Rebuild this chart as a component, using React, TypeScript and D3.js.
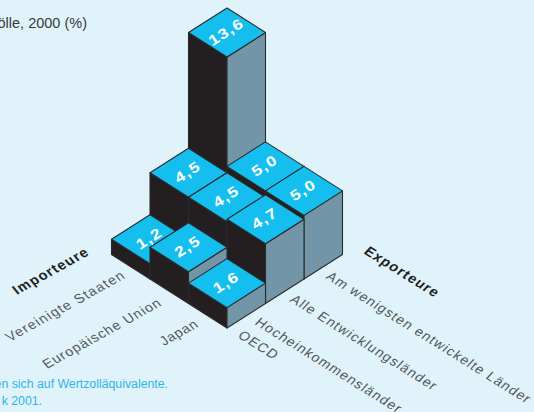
import React from "react";
import * as d3 from "d3";

const importers = ["Japan", "Europäische Union", "Vereinigte Staaten"];
const exporters = ["Hocheinkommensländer OECD", "Alle Entwicklungsländer", "Am wenigsten entwickelte Länder"];
// Rows follow importers, columns follow exporters.
const japanRates = [1.6, 4.7, 5.0];
const euRates = [2.5, 4.5, 5.0];
const usRates = [1.2, 4.5, 13.6];
const rateRows = [japanRates, euRates, usRates];

const BG = "#e0f3fb";
const TOP = "#14bff0";
const LEFT = "#231f20";
const RIGHT = "#7296a8";
const INK = "#55565a";
const SANS = "'Liberation Sans', Arial, sans-serif";

const stepX = d3.scaleLinear().domain([0, 1]).range([0, 38.5]);
const stepY = d3.scaleLinear().domain([0, 1]).range([0, 24.5]);
const height = d3.scaleLinear().domain([0, 13.6]).range([0, 173]);
const ANGLE = (Math.atan2(24.5, 38.5) * 180) / Math.PI;
const IMPORT_ANGLE = -29;
const EXPORT_ANGLE = 32;
const originX = 227;
const originY = 328;

const path = (pts: [number, number][]) => d3.line()(pts) + "Z";

type Cell = { i: number; e: number; v: number };
const cells: Cell[] = rateRows
  .flatMap((row, i) => row.map((v, e) => ({ i, e, v })))
  // Paint from the far corner towards the viewer.
  .sort((a, b) => b.i + b.e - (a.i + a.e));

function Block({ i, e, v }: Cell) {
  const gx = originX + stepX(e - i);
  const gy = originY - stepY(e + i);
  const h = height(v);
  const dx = stepX(1);
  const dy = stepY(1);
  const topFront: [number, number] = [gx, gy - h];
  const topRight: [number, number] = [gx + dx, gy - h - dy];
  const topBack: [number, number] = [gx, gy - h - 2 * dy];
  const topLeft: [number, number] = [gx - dx, gy - h - dy];
  const baseFront: [number, number] = [gx, gy];
  const baseRight: [number, number] = [gx + dx, gy - dy];
  const baseLeft: [number, number] = [gx - dx, gy - dy];
  const edge = { stroke: "#2a2a2c", strokeWidth: 1.1, strokeLinejoin: "round" as const };
  return (
    <g>
      <path d={path([topLeft, topFront, baseFront, baseLeft])} fill={LEFT} {...edge} />
      <path d={path([topFront, topRight, baseRight, baseFront])} fill={RIGHT} {...edge} />
      <path d={path([topFront, topRight, topBack, topLeft])} fill={TOP} {...edge} />
    </g>
  );
}

// Value labels sit above all blocks so no neighbour can cover them.
function ValueLabel({ i, e, v }: Cell) {
  const gx = originX + stepX(e - i);
  const gy = originY - stepY(e + i);
  return (
    <text
      transform={`translate(${gx - 1},${gy - height(v) - stepY(1) - 1}) rotate(${-ANGLE}) scale(1.2,1)`}
      textAnchor="middle"
      dy="0.36em"
      fontFamily={SANS}
      fontWeight="bold"
      fontSize={14.5}
      letterSpacing={1}
      fill="#fff"
    >
      {v.toFixed(1).replace(".", ",")}
    </text>
  );
}

// Sloped text reads along the ground plane, so it is rotated and slightly sheared.
function Sloped(props: { x: number; y: number; angle: number; text: string; bold?: boolean; size?: number; spacing?: number }) {
  const { x, y, angle, text, bold, size = 13.6, spacing = 1.15 } = props;
  const skew = angle > 0 ? -10 : 10;
  return (
    <text
      transform={`translate(${x},${y}) rotate(${angle}) skewX(${skew})`}
      fontFamily={SANS}
      fontWeight={bold ? "bold" : "normal"}
      fontSize={size}
      letterSpacing={spacing}
      fill={bold ? "#231f20" : INK}
    >
      {text}
    </text>
  );
}

export default function App() {
  return (
    <svg
      width={534}
      height={412}
      viewBox="0 0 534 412"
      style={{ position: "absolute", left: 0, top: 0, background: BG }}
    >
      <text x={87} y={28} textAnchor="end" fontFamily={SANS} fontSize={14.5} fill="#3a3a3c">
        Zölle, 2000 (%)
      </text>

      {cells.map((c) => (
        <Block key={`${c.i}-${c.e}`} {...c} />
      ))}
      {cells.map((c) => (
        <ValueLabel key={`${c.i}-${c.e}`} {...c} />
      ))}

      <Sloped x={17} y={295} angle={IMPORT_ANGLE} text="Importeure" bold size={14} spacing={1.1} />
      <Sloped x={10} y={342} angle={IMPORT_ANGLE} text={importers[2]} spacing={1.25} />
      <Sloped x={47} y={369} angle={IMPORT_ANGLE} text={importers[1]} spacing={1.05} />
      <Sloped x={164} y={346} angle={IMPORT_ANGLE} text={importers[0]} spacing={0.75} />

      <Sloped x={363} y={253} angle={EXPORT_ANGLE} text="Exporteure" bold size={14} spacing={1.1} />
      <Sloped x={325} y={278} angle={EXPORT_ANGLE} text={exporters[2]} />
      <Sloped x={289} y={301} angle={EXPORT_ANGLE} text={exporters[1]} />
      <Sloped x={254} y={324} angle={EXPORT_ANGLE} text="Hocheinkommensländer" />
      <Sloped x={237} y={337} angle={EXPORT_ANGLE} text="OECD" />

      <g fontFamily={SANS} fontSize={12.3} fill="#2fb5ea" textAnchor="end">
        <text x={168} y={388}>en sich auf Wertzolläquivalente.</text>
        <text x={42} y={405}>k 2001.</text>
      </g>
    </svg>
  );
}
